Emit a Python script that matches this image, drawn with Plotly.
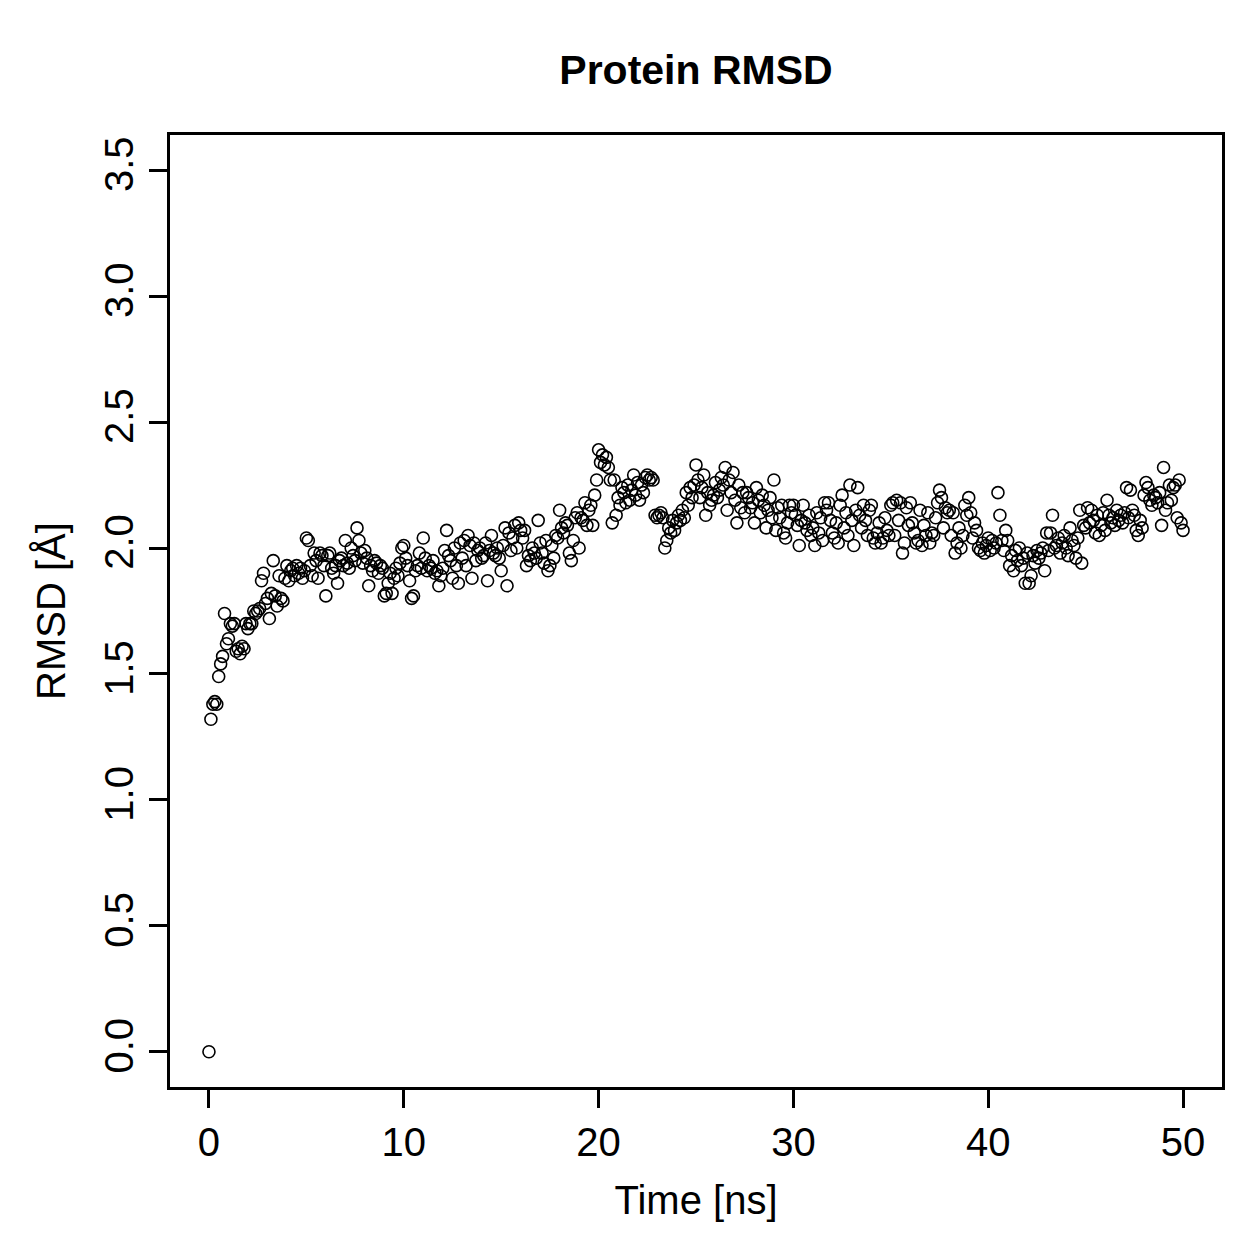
import plotly.graph_objects as go

# Time in ns (0.1 ns steps) and RMSD values
time_ns = [round(i * 0.1, 1) for i in range(501)]

rmsd = [
    0.00, 1.32, 1.38, 1.39, 1.38, 1.49, 1.54, 1.57, 1.74, 1.62,
    1.64, 1.70, 1.69, 1.70, 1.59, 1.60, 1.58, 1.61, 1.60, 1.70,
    1.68, 1.70, 1.70, 1.75, 1.74, 1.75, 1.76, 1.87, 1.90, 1.78,
    1.80, 1.72, 1.82, 1.95, 1.81, 1.77, 1.89, 1.80, 1.79, 1.88,
    1.93, 1.87, 1.91, 1.92, 1.89, 1.93, 1.90, 1.92, 1.88, 1.91,
    2.04, 2.03, 1.93, 1.89, 1.98, 1.95, 1.88, 1.98, 1.97, 1.93,
    1.81, 1.97, 1.98, 1.92, 1.90, 1.93, 1.86, 1.95, 1.96, 1.93,
    2.03, 1.94, 1.92, 2.00, 1.97, 1.95, 2.08, 2.03, 1.98, 1.94,
    1.99, 1.96, 1.85, 1.93, 1.91, 1.95, 1.94, 1.90, 1.93, 1.92,
    1.81, 1.82, 1.86, 1.90, 1.82, 1.88, 1.92, 1.89, 1.94, 2.00,
    2.01, 1.96, 1.93, 1.87, 1.80, 1.81, 1.91, 1.93, 1.98, 1.92,
    2.04, 1.96, 1.91, 1.93, 1.92, 1.95, 1.90, 1.91, 1.85, 1.89,
    1.92, 1.99, 2.07, 1.97, 1.95, 1.88, 2.00, 1.93, 1.86, 2.02,
    1.96, 2.03, 1.93, 2.05, 2.01, 1.88, 2.02, 1.95, 1.99, 2.00,
    1.96, 1.97, 2.02, 1.87, 1.99, 2.05, 1.98, 1.97, 2.00, 1.96,
    1.91, 2.01, 2.08, 1.85, 2.06, 1.99, 2.04, 2.09, 2.00, 2.10,
    2.07, 2.04, 2.07, 1.93, 1.97, 1.95, 2.00, 1.98, 1.96, 2.11,
    2.02, 1.98, 1.94, 2.03, 1.91, 1.93, 2.01, 1.96, 2.05, 2.04,
    2.15, 2.08, 2.06, 2.10, 2.09, 1.98, 1.95, 2.03, 2.12, 2.14,
    2.00, 2.12, 2.11, 2.18, 2.09, 2.15, 2.17, 2.09, 2.21, 2.27,
    2.39, 2.34, 2.37, 2.33, 2.36, 2.32, 2.27, 2.10, 2.27, 2.13,
    2.20, 2.17, 2.24, 2.22, 2.18, 2.25, 2.19, 2.23, 2.29, 2.21,
    2.26, 2.19, 2.25, 2.22, 2.28, 2.29, 2.27, 2.28, 2.27, 2.13,
    2.12, 2.13, 2.14, 2.12, 2.00, 2.03, 2.08, 2.06, 2.11, 2.07,
    2.10, 2.13, 2.11, 2.15, 2.12, 2.22, 2.17, 2.24, 2.20, 2.25,
    2.33, 2.27, 2.20, 2.24, 2.29, 2.13, 2.22, 2.17, 2.19, 2.21,
    2.26, 2.20, 2.23, 2.28, 2.25, 2.32, 2.15, 2.27, 2.22, 2.30,
    2.19, 2.10, 2.25, 2.16, 2.22, 2.14, 2.22, 2.20, 2.16, 2.18,
    2.10, 2.24, 2.19, 2.14, 2.21, 2.17, 2.08, 2.15, 2.20, 2.12,
    2.27, 2.07, 2.16, 2.12, 2.17, 2.06, 2.04, 2.10, 2.17, 2.14,
    2.17, 2.13, 2.09, 2.01, 2.11, 2.17, 2.10, 2.07, 2.13, 2.05,
    2.08, 2.01, 2.14, 2.06, 2.12, 2.03, 2.18, 2.15, 2.18, 2.11,
    2.06, 2.04, 2.10, 2.02, 2.17, 2.21, 2.08, 2.14, 2.05, 2.25,
    2.11, 2.01, 2.15, 2.24, 2.13, 2.08, 2.17, 2.11, 2.05, 2.15,
    2.17, 2.04, 2.02, 2.06, 2.10, 2.02, 2.04, 2.12, 2.07, 2.05,
    2.17, 2.18, 2.05, 2.19, 2.11, 2.18, 1.98, 2.02, 2.16, 2.09,
    2.18, 2.10, 2.06, 2.02, 2.03, 2.15, 2.01, 2.09, 2.05, 2.14,
    2.02, 2.06, 2.05, 2.12, 2.18, 2.23, 2.20, 2.08, 2.16, 2.14,
    2.15, 2.05, 2.14, 1.98, 2.02, 2.08, 2.00, 2.05, 2.17, 2.13,
    2.20, 2.14, 2.04, 2.10, 2.07, 2.00, 1.99, 2.02, 1.98, 2.01,
    2.04, 1.99, 2.03, 2.00, 2.02, 2.22, 2.13, 2.03, 1.99, 2.07,
    2.03, 1.93, 1.97, 1.91, 1.99, 1.95, 2.00, 1.93, 1.96, 1.86,
    1.98, 1.86, 1.89, 1.97, 1.94, 1.99, 1.96, 1.98, 2.00, 1.91,
    2.06, 1.99, 2.06, 2.13, 2.00, 2.01, 2.04, 1.98, 2.02, 2.05,
    2.00, 1.97, 2.08, 2.03, 2.01, 1.96, 2.04, 2.15, 1.94, 2.09,
    2.08, 2.16, 2.10, 2.15, 2.11, 2.06, 2.13, 2.05, 2.09, 2.14,
    2.07, 2.19, 2.13, 2.10, 2.12, 2.09, 2.15, 2.11, 2.13, 2.10,
    2.14, 2.24, 2.12, 2.23, 2.15, 2.13, 2.07, 2.05, 2.11, 2.08,
    2.21, 2.26, 2.24, 2.19, 2.17, 2.21, 2.20, 2.18, 2.22, 2.09,
    2.32, 2.15, 2.18, 2.25, 2.19, 2.24, 2.25, 2.12, 2.27, 2.10,
    2.07,
]

x_ticks = [0, 10, 20, 30, 40, 50]
y_ticks = [0.0, 0.5, 1.0, 1.5, 2.0, 2.5, 3.0, 3.5]
y_tick_labels = ["0.0", "0.5", "1.0", "1.5", "2.0", "2.5", "3.0", "3.5"]

FONT = "Liberation Sans, Arial, Helvetica, sans-serif"
FS = 40

fig = go.Figure()
fig.add_trace(go.Scatter(
    x=time_ns, y=rmsd, mode="markers",
    marker=dict(symbol="circle-open", size=12, color="black",
                line=dict(color="black", width=1.6)),
    showlegend=False,
))

fig.update_layout(
    width=1259, height=1259,
    margin=dict(l=170, r=37, t=135, b=172),
    paper_bgcolor="white", plot_bgcolor="white",
    font=dict(family=FONT, size=FS, color="black"),
    title=dict(text="<b>Protein RMSD</b>", x=(170 + 1222) / 2 / 1259,
               xanchor="center", y=1 - 70 / 1259, yanchor="middle",
               yref="container",
               font=dict(family=FONT, size=41, color="black")),
    xaxis=dict(
        range=[-2, 52], tickvals=x_ticks, ticks="outside", ticklen=18,
        tickwidth=2.8, tickcolor="black", showline=True, linecolor="black",
        linewidth=2.8, mirror=True, showgrid=False, zeroline=False,
        title=dict(text="Time [ns]", standoff=24, font=dict(size=FS)),
        tickfont=dict(size=FS),
    ),
    yaxis=dict(
        range=[-0.14, 3.64], tickvals=y_ticks, ticktext=y_tick_labels,
        ticks="outside", ticklen=18, tickwidth=2.8, tickcolor="black",
        showline=True, linecolor="black", linewidth=2.8, mirror=True,
        showgrid=False, zeroline=False, tickangle=-90,
        title=dict(text="RMSD [Å]", standoff=20, font=dict(size=FS)),
        tickfont=dict(size=FS),
    ),
)

fig.write_html("out.html")
